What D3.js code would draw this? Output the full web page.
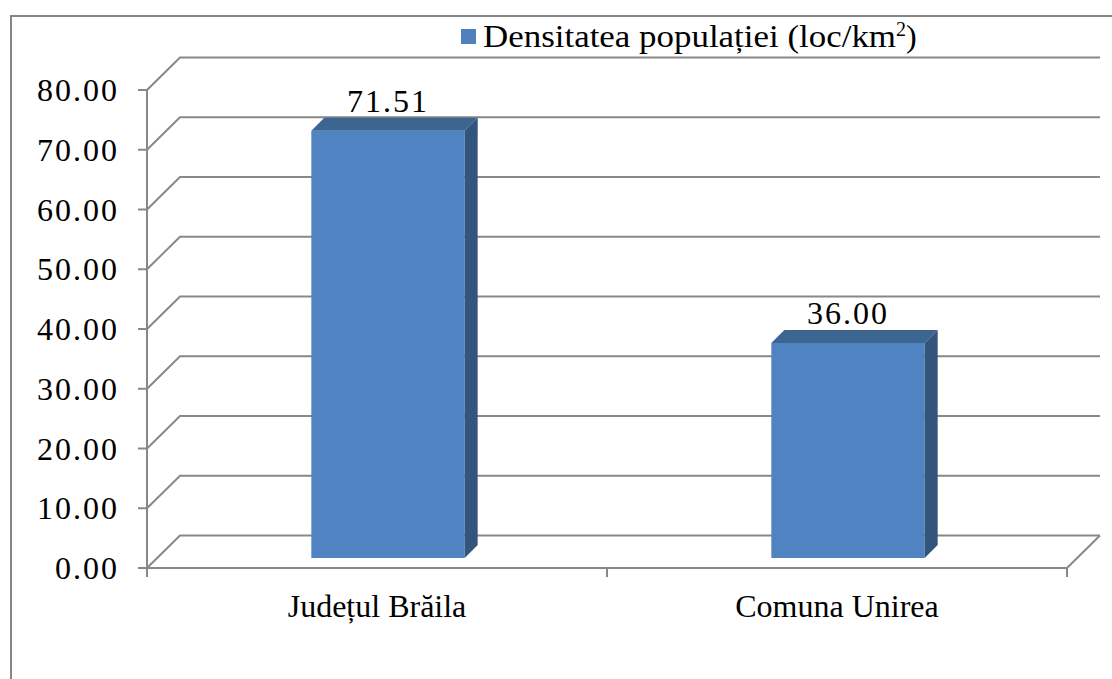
<!DOCTYPE html>
<html lang="ro">
<head>
    <meta charset="UTF-8">
    <title>Densitatea populației</title>
    <script src="https://d3js.org/d3.v7.min.js"></script>
    <style>
        body { margin: 0; background: #fff; }
        svg text { font-family: "Liberation Serif", "DejaVu Serif", serif; fill: #000; }
        .grid { stroke: #888; stroke-width: 2; fill: none; }
        .num { font-size: 32px; letter-spacing: 2px; }
    </style>
</head>
<body>
    <div id="chart"></div>

    <script>
        // date
        const categories = ["Județul Brăila", "Comuna Unirea"];
        const values = [71.51, 36.00];
        const seriesName = "Densitatea populației (loc/km";
        const yTicks = [0, 10, 20, 30, 40, 50, 60, 70, 80];

        const width = 1112, height = 679;
        const depth = { dx: 33, dy: -32.5 };   // adancimea peretilor
        const barOff = { dx: 11, dy: -10 };    // planul frontal al barelor
        const barDepth = { dx: 13, dy: -13 };

        const svg = d3.select("#chart").append("svg")
            .attr("width", width)
            .attr("height", height);

        // chenar
        svg.append("rect")
            .attr("x", 11).attr("y", 16)
            .attr("width", 1200).attr("height", 800)
            .attr("fill", "none").attr("stroke", "#868686").attr("stroke-width", 2);

        const x = d3.scaleBand().domain(categories).range([147, 1067]);
        const y = d3.scaleLinear().domain([0, 80]).range([568, 90]);

        // pereti: linii de grila
        yTicks.forEach(t => {
            const yy = y(t);
            svg.append("path").attr("class", "grid")
                .attr("d", `M147,${yy}L${147 + depth.dx},${yy + depth.dy}L${1067 + depth.dx},${yy + depth.dy}`);
        });
        // podea: margine fata si dreapta
        svg.append("path").attr("class", "grid")
            .attr("d", `M147,${y(0)}L1067,${y(0)}L${1067 + depth.dx},${y(0) + depth.dy}`);

        // axa verticala
        svg.append("line").attr("class", "grid")
            .attr("x1", 147).attr("x2", 147).attr("y1", y(80)).attr("y2", y(0) + 8);
        svg.selectAll(".ytick").data(yTicks).enter().append("line")
            .attr("class", "grid")
            .attr("x1", 138).attr("x2", 147)
            .attr("y1", d => y(d)).attr("y2", d => y(d));
        svg.selectAll(".ylabel").data(yTicks).enter().append("text")
            .attr("class", "num")
            .attr("x", 119).attr("y", d => y(d)).attr("dy", "0.35em")
            .attr("text-anchor", "end")
            .text(d => d.toFixed(2));

        // axa orizontala: gradatii
        const xTicks = [147, ...categories.map(c => x(c) + x.bandwidth())];
        svg.selectAll(".xtick").data(xTicks).enter().append("line")
            .attr("class", "grid")
            .attr("x1", d => d).attr("x2", d => d)
            .attr("y1", y(0)).attr("y2", y(0) + 9);
        svg.selectAll(".xlabel").data(categories).enter().append("text")
            .attr("x", d => x(d) + x.bandwidth() / 2)
            .attr("y", 617)
            .attr("text-anchor", "middle").style("font-size", "32px")
            .text(d => d);

        // bare 3D
        const bw = x.bandwidth() / 3;
        const bars = svg.selectAll(".bar").data(values).enter().append("g");
        bars.each(function (v, i) {
            const g = d3.select(this);
            const cx = x(categories[i]) + x.bandwidth() / 2 + barOff.dx;
            const x0 = cx - bw / 2, x1 = cx + bw / 2;
            const yb = y(0) + barOff.dy, yt = y(v) + barOff.dy;
            // fata
            g.append("rect")
                .attr("x", x0).attr("y", yt)
                .attr("width", bw).attr("height", yb - yt)
                .attr("fill", "#4f83c1");
            // latura dreapta
            g.append("path")
                .attr("d", `M${x1},${yt}L${x1 + barDepth.dx},${yt + barDepth.dy}L${x1 + barDepth.dx},${yb + barDepth.dy}L${x1},${yb}Z`)
                .attr("fill", "#32547d");
            // capac
            g.append("path")
                .attr("d", `M${x0},${yt}L${x0 + barDepth.dx},${yt + barDepth.dy}L${x1 + barDepth.dx},${yt + barDepth.dy}L${x1},${yt}Z`)
                .attr("fill", "#3d6591");
            // eticheta valoare
            g.append("text")
                .attr("class", "num")
                .attr("x", cx).attr("y", yt + barDepth.dy - 6)
                .attr("text-anchor", "middle")
                .text(v.toFixed(2));
        });

        // legenda
        const leg = svg.append("g").attr("transform", "translate(461,29)");
        leg.append("rect").attr("width", 15).attr("height", 15).attr("fill", "#4f81bd");
        const lt = leg.append("text")
            .attr("x", 22).attr("y", 18)
            .style("font-size", "32px");
        lt.append("tspan").attr("textLength", 413).attr("lengthAdjust", "spacingAndGlyphs").text(seriesName);
        lt.append("tspan").attr("dy", -11).style("font-size", "20px").text("2");
        lt.append("tspan").attr("dy", 11).text(")");
    </script>
</body>
</html>
